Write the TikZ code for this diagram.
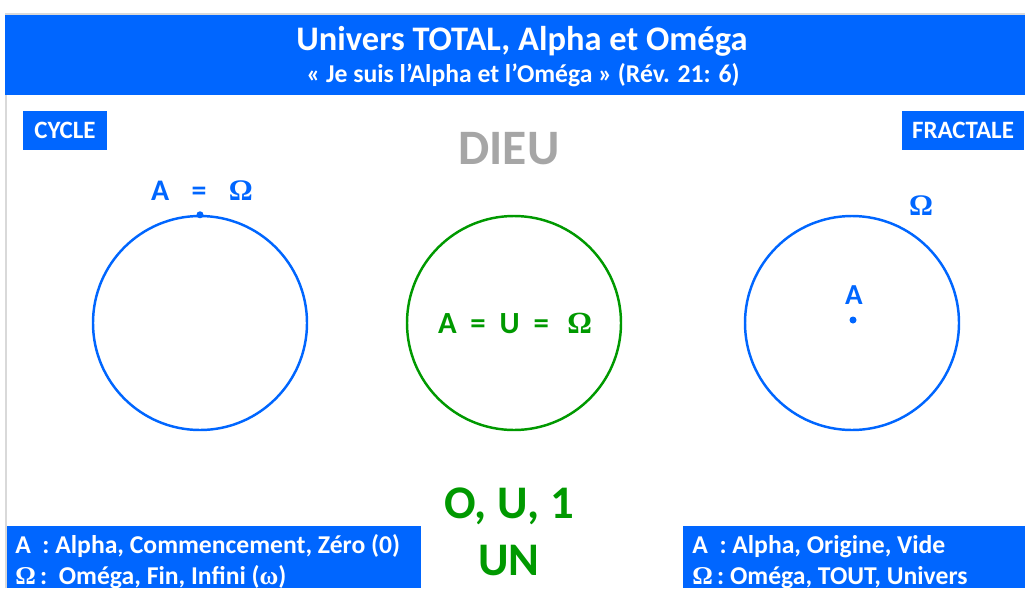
\documentclass[tikz,border=0pt]{standalone}
\usepackage{fontspec}
\setmainfont{Carlito}
\newfontfamily\grecfont{Liberation Serif}
\definecolor{ubleu}{HTML}{0066FF}
\definecolor{uvert}{HTML}{009900}
\definecolor{ugris}{HTML}{A6A6A6}
\newcommand{\Om}{{\grecfont Ω}}
\newcommand{\om}{{\grecfont ω}}

\begin{document}
\begin{tikzpicture}[x=0.2mm, y=-0.2mm,
    bloc/.style={fill=ubleu, draw=none},
    etiquette/.style={fill=ubleu, text=white, inner sep=0pt, minimum height=7.8mm,
        font=\bfseries\fontsize{14.2}{17}\selectfont},
    legende/.style={anchor=base west, text=white, inner sep=0pt,
        font=\bfseries\fontsize{14.6}{17}\selectfont},
    rond/.style={circle, draw, line width=1.4pt, minimum size=42.8mm, inner sep=0pt}]
    \useasboundingbox (0,0) rectangle (1025,588);
    % cadre et bandeau
    \draw[gray!30, line width=0.5mm] (6,588) -- (6,14) -- (1025,14);
    \fill[bloc] (5,15) rectangle (1025,95);
    \node[text=white, font=\bfseries\fontsize{19.6}{23}\selectfont] (titre) at (522,41) {Univers TOTAL, Alpha et Oméga};
    \node[text=white, font=\bfseries\fontsize{14.6}{17}\selectfont] (verset) at (523,75) {« Je suis l’Alpha et l’Oméga » (Rév. 21: 6)};
    \node[etiquette, minimum width=16.8mm] (cycle) at (65,130) {CYCLE};
    \node[etiquette, minimum width=24.4mm] (fractale) at (963,130) {FRACTALE};
    \node[text=ugris, font=\bfseries\fontsize{28.2}{33}\selectfont] (dieu) at (509,149) {DIEU};
    % les trois cercles
    \node[rond, draw=ubleu] (gauche) at (200,323) {};
    \node[rond, draw=uvert] (centre) at (514,323) {};
    \node[rond, draw=ubleu] (droite) at (852,323) {};
    \fill[ubleu] (gauche.north) circle[radius=3.5];
    \fill[ubleu] (droite.center) ++(1,-3) coordinate (alpha) circle[radius=3.5];
    \node[text=ubleu, font=\bfseries\fontsize{17}{20}\selectfont] (egal gauche) at (202,191) {A\hspace{0.75em}=\hspace{0.75em}\Om};
    \node[text=uvert, font=\bfseries\fontsize{17.5}{21}\selectfont] (egal centre) at (515,323) {A\hspace{0.45em}=\hspace{0.45em}U\hspace{0.45em}=\hspace{0.6em}\Om};
    \node[text=ubleu, font=\bfseries\fontsize{16.5}{19}\selectfont] (a droite) at (854,295) {A};
    \node[text=ubleu, font=\bfseries\fontsize{17}{20}\selectfont] (omega droite) at (921,206) {\Om};
    \node[text=uvert, font=\bfseries\fontsize{26.6}{32}\selectfont] (ou1) at (509,506) {O, U, 1};
    \node[text=uvert, font=\bfseries\fontsize{26.6}{32}\selectfont] (un) at (509,561) {UN};
    % legendes du bas
    \fill[bloc] (7,526) rectangle (421,588);
    \fill[bloc] (683,526) rectangle (1025,588);
    \node[legende] (alpha gauche) at (15,553) {A\ \ : Alpha, Commencement, Zéro (0)};
    \node[legende] (omega gauche) at (15,584) {\Om\,:\ \ Oméga, Fin, Infini (\om)};
    \node[legende] (alpha droite) at (692,553) {A\ \ : Alpha, Origine, Vide};
    \node[legende] (omega bas) at (692,584) {\Om\,: Oméga, TOUT, Univers};
\end{tikzpicture}
\end{document}
